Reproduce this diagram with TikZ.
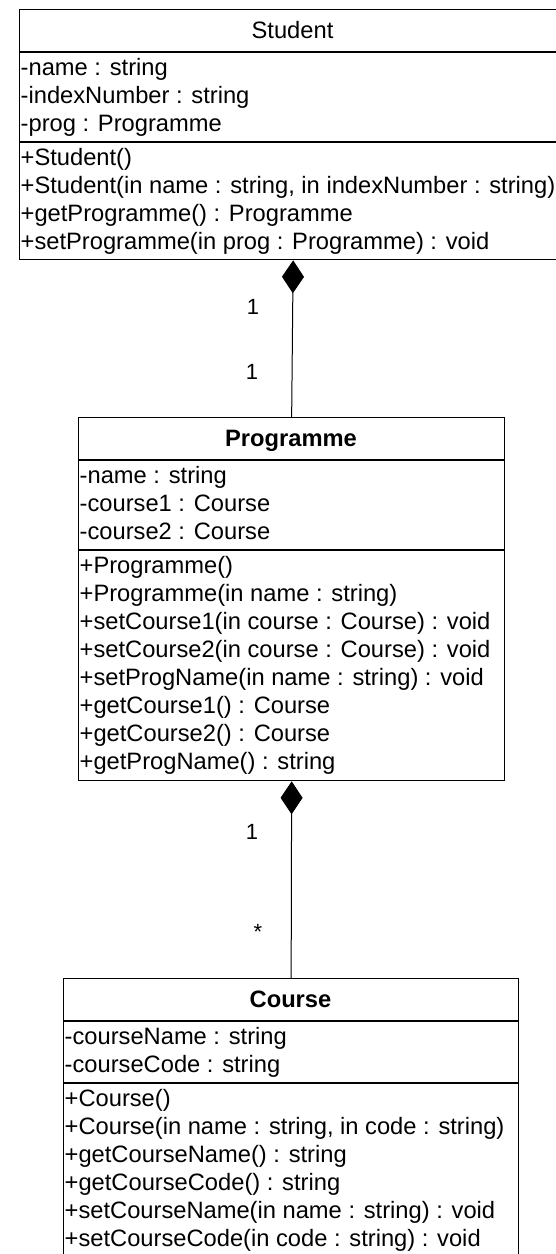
\documentclass[tikz,border=0pt]{standalone}
\usepackage{fontspec}
\setmainfont{Liberation Sans}
\usetikzlibrary{arrows.meta}
\tikzset{
  classbox/.style={draw=black, line width=1.3pt, inner sep=0pt, anchor=north west},
  sepline/.style={line width=1.3pt},
  member/.style={anchor=base west, inner sep=0pt, font=\fontsize{23.7}{28}\selectfont},
  classtitle/.style={anchor=base, inner sep=0pt, font=\fontsize{23.7}{28}\selectfont},
  mult/.style={inner sep=0pt, font=\fontsize{22}{26}\selectfont},
  comp/.style={line width=1pt, {Diamond[length=33pt,width=22pt]}-}
}
\begin{document}
\begin{tikzpicture}[x=1pt,y=-1pt]
\fill[white] (0,0) rectangle (556,1254);
\useasboundingbox (0,0) rectangle (556,1254);
\clip (0,0) rectangle (556,1254);

% ---------- Student ----------
\node[classbox, minimum width=547pt, minimum height=250pt] (student) at (19,9) {};
\draw[sepline] (19,52) -- (566,52);
\draw[sepline] (19,142) -- (566,142);
\node[classtitle] (s-title) at (292.5,38.5) {Student};
\node[member] (s-a1) at (20.5,75) {-name : string};
\node[member] (s-a2) at (20.5,103) {-indexNumber : string};
\node[member] (s-a3) at (20.5,131) {-prog : Programme};
\node[member] (s-m1) at (20.5,165) {+Student()};
\node[member] (s-m2) at (20.5,193) {+Student(in name : string, in indexNumber : string)};
\node[member] (s-m3) at (20.5,221) {+getProgramme() : Programme};
\node[member] (s-m4) at (20.5,249) {+setProgramme(in prog : Programme) : void};

% ---------- Programme ----------
\node[classbox, minimum width=426pt, minimum height=363pt] (programme) at (78,417) {};
\draw[sepline] (78,460) -- (504,460);
\draw[sepline] (78,550) -- (504,550);
\node[classtitle] (p-title) at (291,446.5) {\bfseries Programme};
\node[member] (p-a1) at (79.5,483) {-name : string};
\node[member] (p-a2) at (79.5,511) {-course1 : Course};
\node[member] (p-a3) at (79.5,539) {-course2 : Course};
\node[member] (p-m1) at (79.5,573) {+Programme()};
\node[member] (p-m2) at (79.5,601) {+Programme(in name : string)};
\node[member] (p-m3) at (79.5,629) {+setCourse1(in course : Course) : void};
\node[member] (p-m4) at (79.5,657) {+setCourse2(in course : Course) : void};
\node[member] (p-m5) at (79.5,685) {+setProgName(in name : string) : void};
\node[member] (p-m6) at (79.5,713) {+getCourse1() : Course};
\node[member] (p-m7) at (79.5,741) {+getCourse2() : Course};
\node[member] (p-m8) at (79.5,769) {+getProgName() : string};

% ---------- Course ----------
\node[classbox, minimum width=455pt, minimum height=279pt] (course) at (63,978) {};
\draw[sepline] (63,1021) -- (518,1021);
\draw[sepline] (63,1083) -- (518,1083);
\node[classtitle] (c-title) at (290.5,1007.5) {\bfseries Course};
\node[member] (c-a1) at (64.5,1044) {-courseName : string};
\node[member] (c-a2) at (64.5,1072) {-courseCode : string};
\node[member] (c-m1) at (64.5,1106) {+Course()};
\node[member] (c-m2) at (64.5,1134) {+Course(in name : string, in code : string)};
\node[member] (c-m3) at (64.5,1162) {+getCourseName() : string};
\node[member] (c-m4) at (64.5,1190) {+getCourseCode() : string};
\node[member] (c-m5) at (64.5,1218) {+setCourseName(in name : string) : void};
\node[member] (c-m6) at (64.5,1246) {+setCourseCode(in code : string) : void};

% ---------- Compositions ----------
\draw[comp] (student.south) -- (programme.north);
\draw[comp] (programme.south) -- (course.north);

% ---------- Multiplicities ----------
\node[mult] (m1) at (253,307) {1};
\node[mult] (m2) at (252,372) {1};
\node[mult] (m3) at (252,832) {1};
\node[mult] (m4) at (258,932) {*};
\end{tikzpicture}
\end{document}
